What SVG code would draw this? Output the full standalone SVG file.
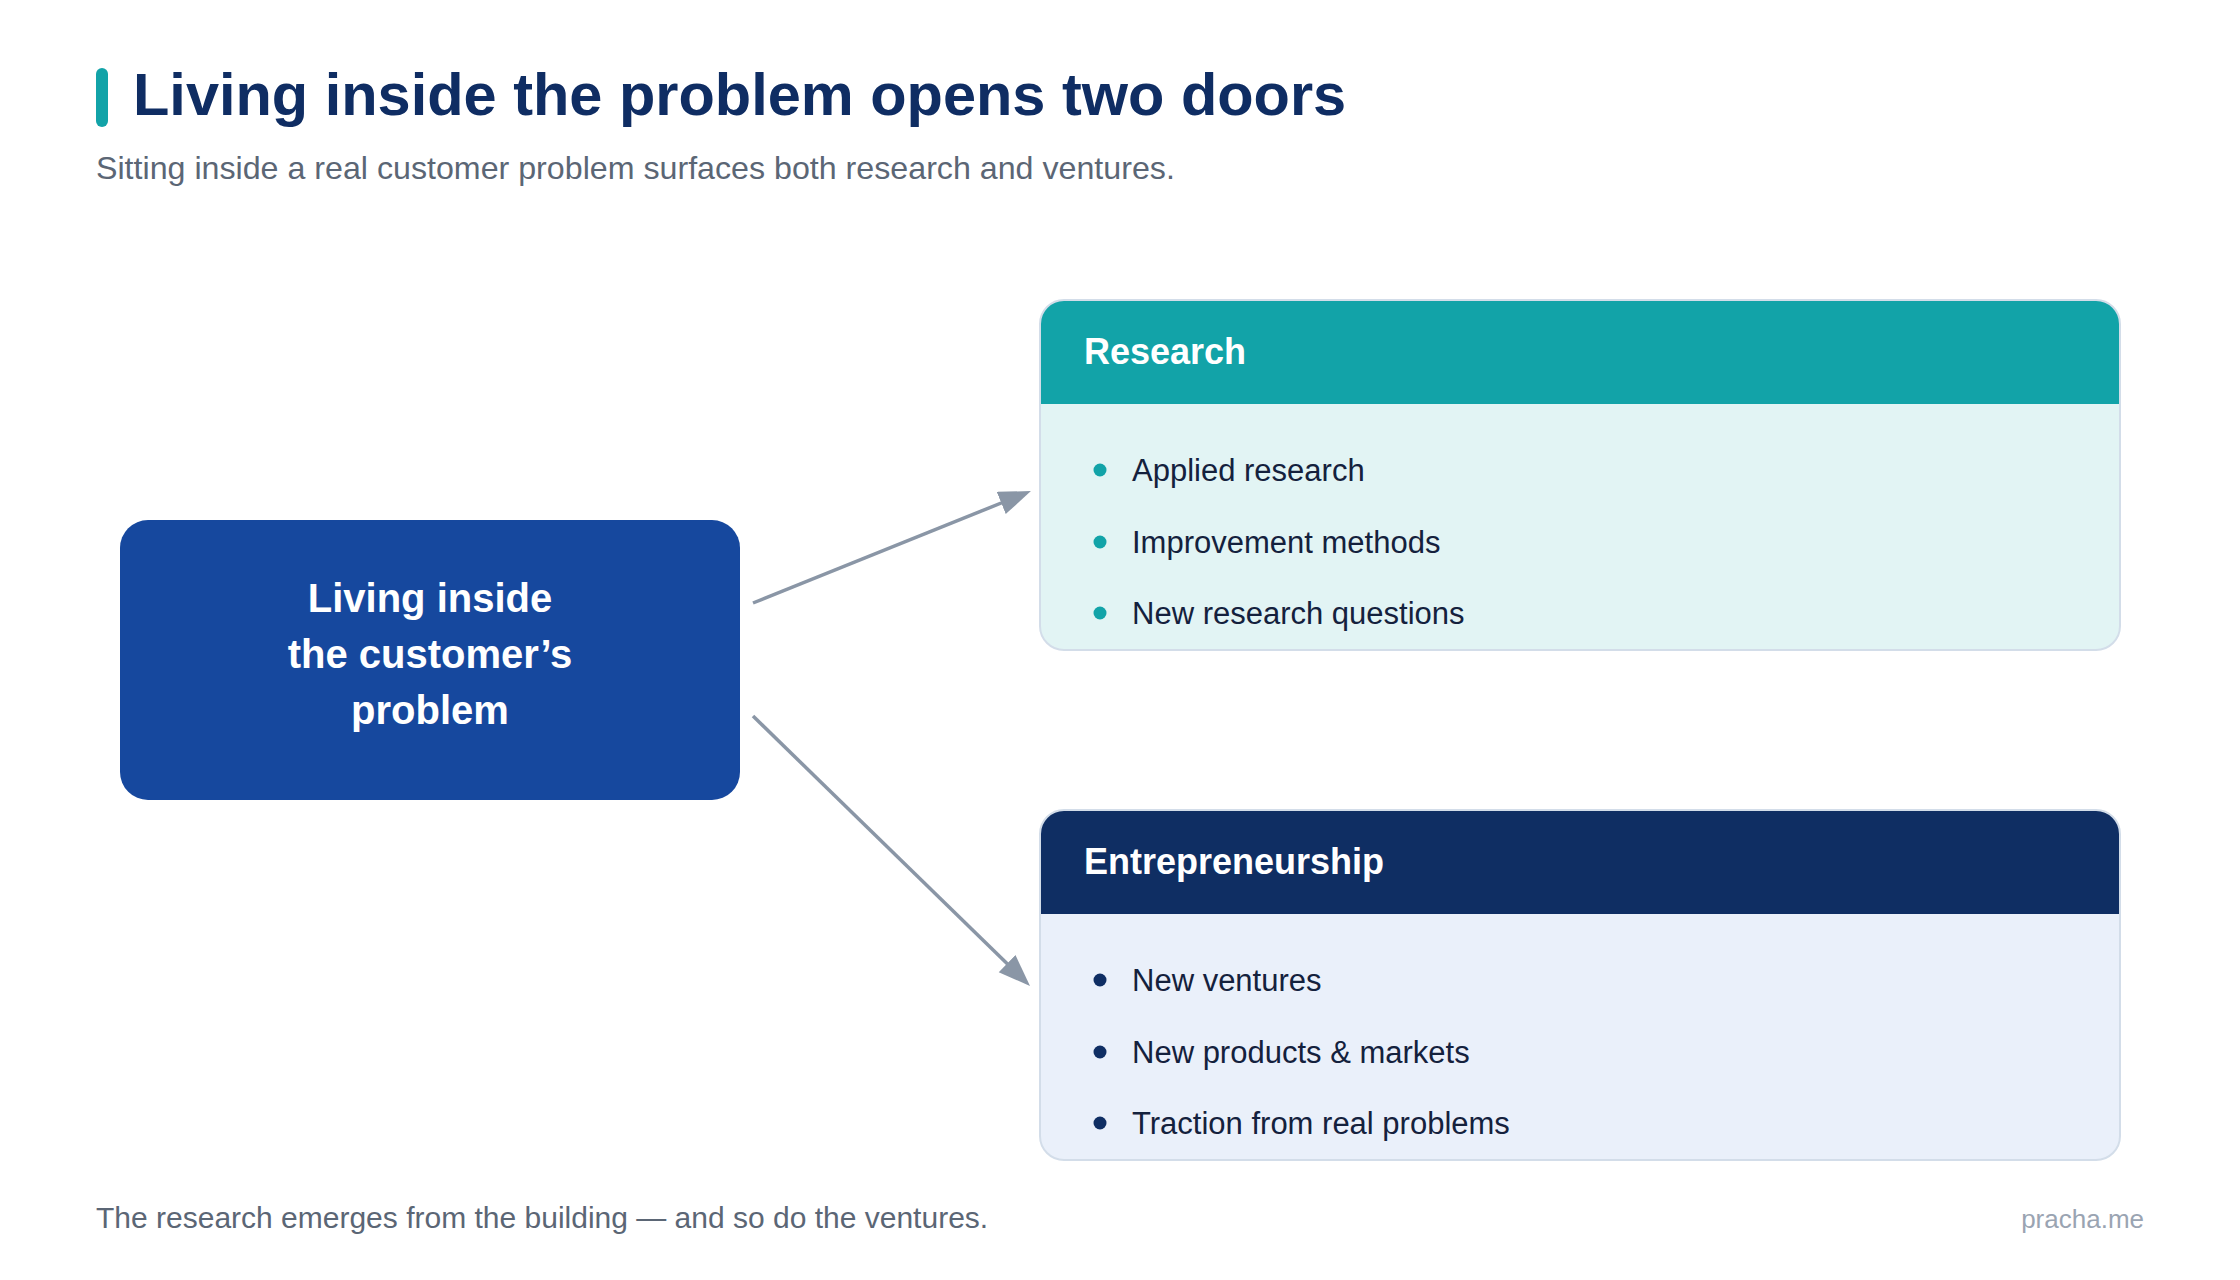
<svg xmlns="http://www.w3.org/2000/svg" width="2240" height="1280" viewBox="0 0 2240 1280">
  <defs>
    <style>
      text { font-family: "Liberation Sans", Arial, Helvetica, sans-serif; }
      .title { font-size: 59.5px; font-weight: 700; fill: #0F2D63; }
      .subtitle { font-size: 32.2px; fill: #5B6675; }
      .footer { font-size: 30px; fill: #5B6675; }
      .brand { font-size: 26px; fill: #9AA4B2; }
      .node-text { font-size: 40px; font-weight: 700; fill: #FFFFFF; }
      .head-text { font-size: 36px; font-weight: 700; fill: #FFFFFF; }
      .item { font-size: 31px; fill: #14213D; }
      .card-border { fill: none; stroke: #D3DDE9; stroke-width: 2; }
      .conn { stroke: #8A96A6; stroke-width: 3.5; fill: none; }
    </style>
    <marker id="arrow" markerUnits="userSpaceOnUse" markerWidth="34" markerHeight="26" refX="12" refY="12" orient="auto">
      <path d="M0,0 L32,12 L0,24 Z" fill="#8A96A6"/>
    </marker>
  </defs>

  <rect x="0" y="0" width="2240" height="1280" fill="#FFFFFF"/>

  <g id="header">
    <rect x="96" y="68" width="12" height="59" rx="6" fill="#12A3A8"/>
    <text class="title" x="133" y="115">Living inside the problem opens two doors</text>
    <text class="subtitle" x="96" y="179">Sitting inside a real customer problem surfaces both research and ventures.</text>
  </g>

  <g id="connectors">
    <line class="conn" x1="753" y1="603" x2="1012.4" y2="498.5" marker-end="url(#arrow)"/>
    <line class="conn" x1="753" y1="716" x2="1015.7" y2="972" marker-end="url(#arrow)"/>
  </g>

  <g id="node-problem">
    <rect x="120" y="520" width="620" height="280" rx="28" fill="#16489E"/>
    <text class="node-text" text-anchor="middle" x="430" y="612">Living inside</text>
    <text class="node-text" text-anchor="middle" x="430" y="668">the customer’s</text>
    <text class="node-text" text-anchor="middle" x="430" y="724">problem</text>
  </g>

  <g id="node-research">
    <rect x="1040" y="300" width="1080" height="350" rx="24" fill="#E2F4F4"/>
    <path d="M1040,404 V324 A24,24 0 0 1 1064,300 H2096 A24,24 0 0 1 2120,324 V404 Z" fill="#12A3A8"/>
    <rect class="card-border" x="1040" y="300" width="1080" height="350" rx="24"/>
    <text class="head-text" x="1084" y="364">Research</text>
    <circle cx="1100" cy="470" r="6.5" fill="#12A3A8"/>
    <text class="item" x="1132" y="481">Applied research</text>
    <circle cx="1100" cy="542" r="6.5" fill="#12A3A8"/>
    <text class="item" x="1132" y="553">Improvement methods</text>
    <circle cx="1100" cy="613" r="6.5" fill="#12A3A8"/>
    <text class="item" x="1132" y="624">New research questions</text>
  </g>

  <g id="node-entrepreneurship">
    <rect x="1040" y="810" width="1080" height="350" rx="24" fill="#EAF0FA"/>
    <path d="M1040,914 V834 A24,24 0 0 1 1064,810 H2096 A24,24 0 0 1 2120,834 V914 Z" fill="#0F2E63"/>
    <rect class="card-border" x="1040" y="810" width="1080" height="350" rx="24"/>
    <text class="head-text" x="1084" y="874">Entrepreneurship</text>
    <circle cx="1100" cy="980" r="6.5" fill="#0F2E63"/>
    <text class="item" x="1132" y="991">New ventures</text>
    <circle cx="1100" cy="1052" r="6.5" fill="#0F2E63"/>
    <text class="item" x="1132" y="1063">New products &amp; markets</text>
    <circle cx="1100" cy="1123" r="6.5" fill="#0F2E63"/>
    <text class="item" x="1132" y="1134">Traction from real problems</text>
  </g>

  <g id="footer">
    <text class="footer" x="96" y="1228">The research emerges from the building — and so do the ventures.</text>
    <text class="brand" x="2144" y="1228" text-anchor="end">pracha.me</text>
  </g>
</svg>
